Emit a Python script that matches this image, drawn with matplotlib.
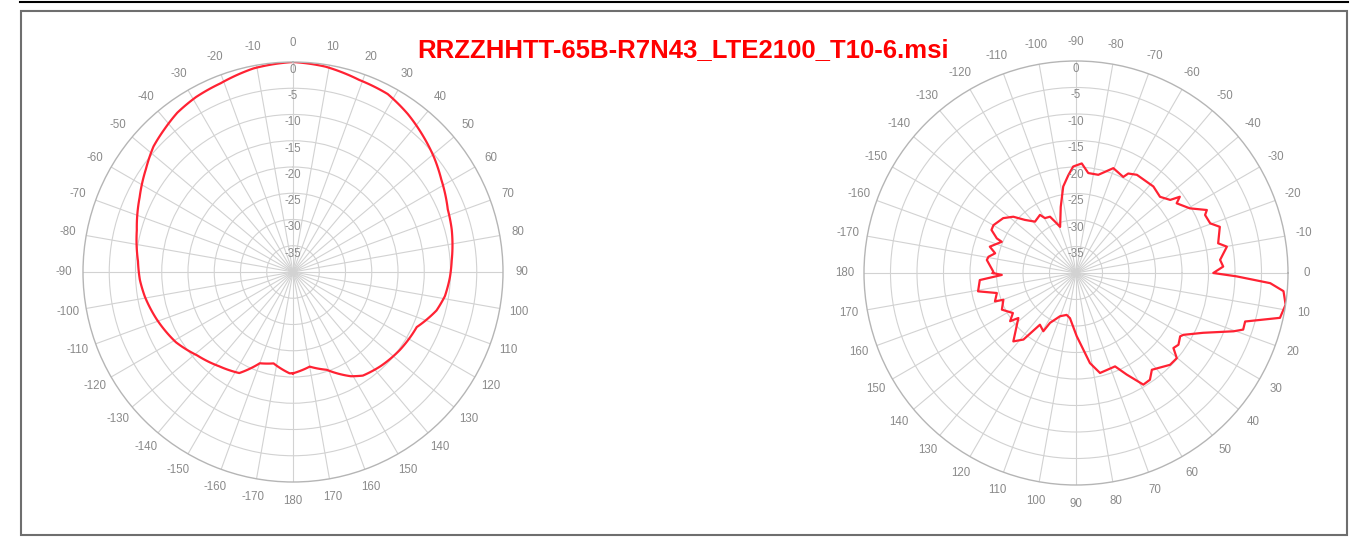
import numpy as np
import matplotlib.pyplot as plt
from matplotlib.lines import Line2D
from matplotlib.patches import Rectangle

title = "RRZZHHTT-65B-R7N43_LTE2100_T10-6.msi"

# horizontal pattern, angle (deg) / level (dB)
hor_angle = [-180, -178, -168, -160, -152, -142, -131, -121, -109, -99.5, -93, -86,
             -75, -64, -55, -48, -42, -36, -29, -21, -11, 0, 9, 19, 28, 36, 44, 51,
             58, 68, 75, 86, 92, 99, 105, 114, 126, 137, 146, 151, 161, 170, 180]
hor_db = [-20.7, -20.7, -22.2, -21.5, -18.2, -17.2, -15.8, -14.0, -12.5, -11.4, -10.8, -10.4,
          -9.2, -7.5, -5.8, -4.25, -3.4, -2.5, -1.9, -1.5, -0.5, 0.0, -0.4, -1.3, -1.6, -2.8, -4.2, -5.4,
          -6.7, -8.2, -8.7, -9.7, -10.1, -10.7, -11.7, -14.2, -14.8, -15.5, -16.2, -17.3, -20.3, -21.7, -20.7]

# vertical pattern
ver_angle = [-180, -179.1, -171.7, -169.5, -166.3, -163.0, -157.2, -156.4, -153.0, -149.9,
             -143.0, -138.1, -133.9, -128.6, -121.8, -119.5, -114.8, -112.3, -109.0, -103.0,
             -98.4, -94.5, -91.5, -87.0, -83.0, -77.2, -70.4, -63.8, -62.3, -58.2,
             -48.2, -42.2, -37.8, -36.3, -34.7, -29.6, -25.7, -24.2, -20.3, -17.8,
             -11.8, -9.9, -5.2, -2.5, 0.0, 1.2, 3.0, 5.0, 8.6, 12.4,
             16.0, 18.7, 20.3, 25.2, 29.9, 31.3, 35.0, 37.6, 40.2, 44.3,
             51.9, 55.3, 58.9, 63.5, 67.3, 76.5, 81.2, 89.4, 97.6, 102.6,
             110.3, 117.5, 119.3, 124.9, 128.3, 132.5, 142.0, 143.8, 147.6, 153.7,
             159.8, 160.7, 165.8, 169.4, 175.8, 178.5, 180]
ver_db = [-24.3, -24.4, -23.0, -23.2, -24.3, -23.0, -24.8, -23.7, -22.1, -22.0,
          -22.8, -24.1, -26.1, -27.6, -27.1, -28.1, -28.3, -29.5, -30.8, -27.2,
          -23.5, -21.5, -19.9, -19.3, -21.0, -21.0, -19.0, -19.8, -18.8, -18.2,
          -18.1, -18.6, -17.5, -15.7, -16.9, -15.3, -12.6, -13.3, -13.0, -11.5,
          -12.6, -11.1, -12.7, -12.2, -14.1, -9.7, -3.3, -0.7, 0.0, -0.6,
          -6.8, -6.7, -8.3, -13.5, -16.6, -17.0, -16.4, -16.8, -15.1, -15.2,
          -16.8, -15.5, -15.4, -18.6, -20.9, -20.6, -22.8, -28.1, -31.4, -31.9,
          -31.3, -29.4, -27.4, -28.1, -24.0, -22.5, -26.2, -24.6, -25.9, -24.4,
          -25.4, -23.8, -24.6, -21.2, -21.8, -26.0, -24.3]

ring_values = [0, -5, -10, -15, -20, -25, -30, -35]
label_angles = list(range(-170, 190, 10))

W, H = 1357, 541
plt.rcParams['font.family'] = ['Liberation Sans', 'DejaVu Sans']
fig = plt.figure(figsize=(W / 100, H / 100), dpi=100)

grey_txt = '#8a8a8a'
red = '#ff2233'


def polar_axes(cx, cy, rad, zero):
    ax = fig.add_axes([(cx - rad) / W, (H - cy - rad) / H, 2 * rad / W, 2 * rad / H],
                      projection='polar')
    ax.set_theta_zero_location(zero)
    ax.set_theta_direction(-1)
    ax.set_ylim(-40, 0)
    ax.set_xticks(np.radians(np.arange(0, 360, 10)))
    ax.set_yticks([-35, -30, -25, -20, -15, -10, -5])
    ax.set_xticklabels([])
    ax.set_yticklabels([])
    ax.grid(color='#d2d2d2', lw=0.8)
    ax.spines['polar'].set_color('#b5b5b5')
    ax.spines['polar'].set_linewidth(1.0)
    return ax


def add_labels(ax, ring_theta):
    for a in label_angles:
        ax.text(np.radians(a), 3.6, str(a), color=grey_txt, fontsize=8.3,
                ha='center', va='center')
    for v in ring_values:
        ax.text(np.radians(ring_theta), v - 1.5, str(v), color=grey_txt, fontsize=8.3,
                ha='center', va='center')


# left: horizontal pattern, 0 at top
ax1 = polar_axes(293, 272, 210, 'N')
add_labels(ax1, 0)
ln1, = ax1.plot(np.radians(hor_angle), hor_db, color=red, lw=1.6)
ln1.get_path()._interpolation_steps = 10  # draw as polar arcs, not chords

# right: vertical pattern, 0 at right
ax2 = polar_axes(1076, 273, 212, 'E')
add_labels(ax2, -90)
ax2.plot(np.radians(ver_angle), ver_db, color=red, lw=1.6)

fig.text(683 / W, 1 - 50 / H, title, color='#ff0000', fontsize=18.5,
         fontweight='bold', ha='center', va='center')

# frame
fig.add_artist(Line2D([20 / W, 1348 / W], [1 - 2 / H, 1 - 2 / H], color='black', lw=1.5))
fig.add_artist(Rectangle((21 / W, 1 - 535 / H), (1347 - 21) / W, (535 - 11) / H,
                         transform=fig.transFigure, fill=False, ec='#6e6e6e', lw=1.5))

fig.savefig('out.png', dpi=100)
